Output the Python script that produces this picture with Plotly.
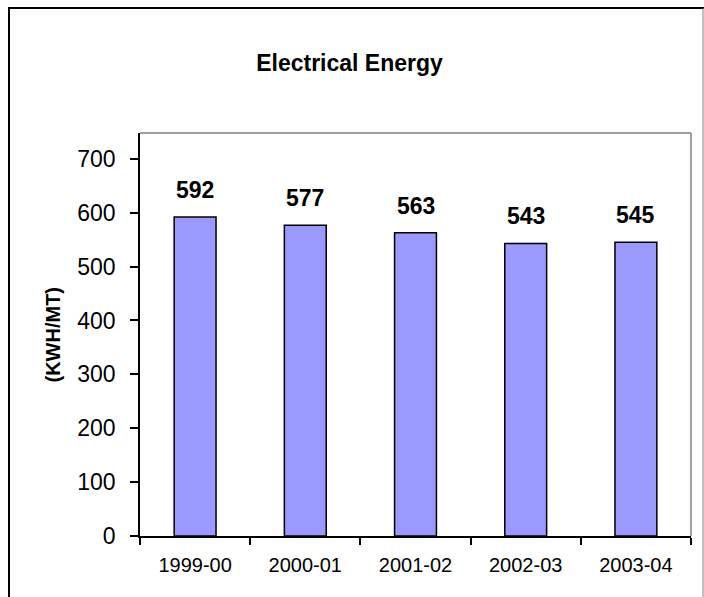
import plotly.graph_objects as go

categories = ["1999-00", "2000-01", "2001-02", "2002-03", "2003-04"]
values = [592, 577, 563, 543, 545]
y_ticks = [0, 100, 200, 300, 400, 500, 600, 700]

W, H = 704, 597
L, R, T, B = 140, 691, 133, 536
pw, ph = R - L, B - T

def px(x):
    return (x - L) / pw

def py(y):
    return (B - y) / ph

FONT = "Liberation Sans, Arial, sans-serif"

fig = go.Figure()
fig.add_trace(go.Bar(
    x=categories, y=values,
    marker=dict(color="#9999FF", line=dict(color="black", width=1.5)),
    width=0.38,
    hoverinfo="skip",
))

for c, v in zip(categories, values):
    fig.add_annotation(x=c, y=v, text=f"<b>{v}</b>", showarrow=False,
                       yanchor="bottom", yshift=12,
                       font=dict(family=FONT, size=23, color="black"))

fig.add_annotation(xref="paper", yref="paper", x=px(52), y=0.5,
                   text="<b>(KWH/MT)</b>", textangle=-90, showarrow=False,
                   xanchor="center", yanchor="middle",
                   font=dict(family=FONT, size=20, color="black"))

shapes = [
    # outer frame
    dict(type="line", xref="paper", yref="paper", x0=px(9), x1=px(9), y0=py(8), y1=py(620),
         line=dict(color="black", width=2)),
    dict(type="line", xref="paper", yref="paper", x0=px(8), x1=px(704), y0=py(8), y1=py(8),
         line=dict(color="black", width=2)),
    dict(type="line", xref="paper", yref="paper", x0=px(703), x1=px(703), y0=py(8), y1=py(620),
         line=dict(color="#808080", width=1)),
    # plot area top/right gray border
    dict(type="line", xref="paper", yref="paper", x0=0, x1=1, y0=1, y1=1,
         line=dict(color="#808080", width=1.5)),
    dict(type="line", xref="paper", yref="paper", x0=1, x1=1, y0=0, y1=1,
         line=dict(color="#808080", width=1.5)),
]

fig.update_layout(
    width=W, height=H,
    margin=dict(l=L, r=W - R, t=T, b=H - B),
    paper_bgcolor="white", plot_bgcolor="white",
    showlegend=False,
    shapes=shapes,
    title=dict(text="<b>Electrical Energy</b>", x=349.5 / W, y=1 - 63 / H,
               xanchor="center", yanchor="middle",
               font=dict(family=FONT, size=23, color="black")),
    font=dict(family=FONT, color="black"),
)

fig.update_xaxes(
    type="category", showline=True, linecolor="black", linewidth=1.5,
    ticks="outside", tickson="boundaries", ticklen=7, tickcolor="black", tickwidth=1.5,
    showgrid=False, zeroline=False,
    tickfont=dict(family=FONT, size=20, color="black"),
    ticklabelstandoff=10,
)
fig.update_yaxes(
    range=[0, 748], tickvals=y_ticks, showline=True, linecolor="black", linewidth=1.5,
    ticks="outside", ticklen=8, tickcolor="black", tickwidth=1.5,
    showgrid=False, zeroline=False,
    tickfont=dict(family=FONT, size=23, color="black"),
    ticklabelstandoff=10,
)

fig.write_html("out.html")
